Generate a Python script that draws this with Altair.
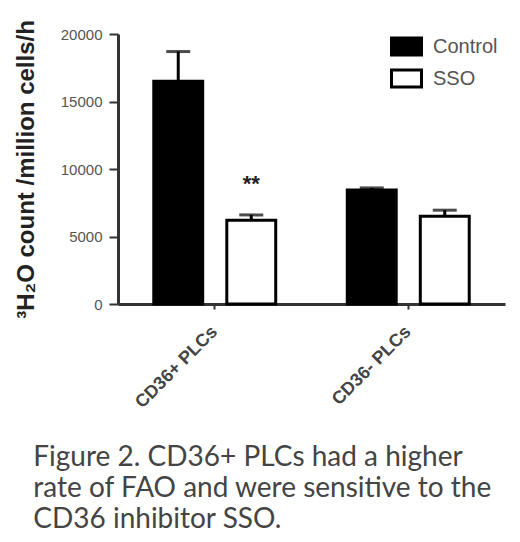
import altair as alt
import pandas as pd

groups = ["CD36+ PLCs", "CD36- PLCs"]
treatments = ["Control", "SSO"]
bar_group = ["CD36+ PLCs", "CD36+ PLCs", "CD36- PLCs", "CD36- PLCs"]
bar_treat = ["Control", "SSO", "Control", "SSO"]
means = [16500, 6200, 8450, 6500]
errors = [2200, 400, 150, 450]
sig = ["", "**", "", ""]
y_ticks = [0, 5000, 10000, 15000, 20000]
caption = [
    "Figure 2. CD36+ PLCs had a higher",
    "rate of FAO and were sensitive to the",
    "CD36 inhibitor SSO.",
]

df = pd.DataFrame({
    "group": bar_group,
    "treatment": bar_treat,
    "mean": means,
    "err": errors,
    "sig": sig,
})
df["upper"] = df["mean"] + df["err"]

x = alt.X("group:N", sort=groups, title=None,
          scale=alt.Scale(paddingInner=0, paddingOuter=0),
          axis=alt.Axis(labelAngle=-45, labelAlign="right", labelBaseline="middle",
                        labelFontSize=18, labelFontWeight="bold", labelColor="#444",
                        labelFont="Liberation Sans", labelPadding=20,
                        tickSize=5, tickWidth=2, tickColor="#333",
                        domainWidth=3, domainColor="#333"))
xo = alt.XOffset("treatment:N", sort=treatments,
                 scale=alt.Scale(paddingInner=0.33, paddingOuter=0.49))
yscale = alt.Scale(domain=[0, 20000], nice=False)

base = alt.Chart(df)

bars = base.mark_bar(stroke="black", strokeWidth=3).encode(
    x=x,
    xOffset=xo,
    y=alt.Y("mean:Q", scale=yscale,
            title="³H₂O count /million cells/h",
            axis=alt.Axis(values=y_ticks, format="d", grid=False, labelFontSize=15,
                          labelColor="#555", labelFont="Liberation Sans",
                          tickSize=9, tickWidth=2, tickColor="#333",
                          labelPadding=7,
                          domainWidth=3, domainColor="#333",
                          titleFontSize=24, titleFontWeight="bold",
                          titleColor="#222", titleFont="Liberation Sans",
                          titlePadding=22)),
    fill=alt.Fill("treatment:N", sort=treatments,
                  scale=alt.Scale(domain=treatments, range=["black", "white"]),
                  legend=alt.Legend(title=None, orient="none", legendX=272, legendY=-4,
                                    symbolType="M-1,-0.57L1,-0.57L1,0.57L-1,0.57Z",
                                    symbolSize=900, symbolStrokeColor="black",
                                    symbolStrokeWidth=3, symbolFillColor="white",
                                    labelFontSize=20, labelColor="#555",
                                    labelFont="Liberation Sans", rowPadding=-1,
                                    labelOffset=10)),
)

rules = base.mark_rule(color="black", strokeWidth=3).encode(
    x=x, xOffset=xo,
    y=alt.Y("mean:Q", scale=yscale), y2="upper:Q",
)

caps = base.mark_tick(color="black", thickness=3, size=24).encode(
    x=x, xOffset=xo,
    y=alt.Y("upper:Q", scale=yscale),
)

stars = base.mark_text(fontSize=22, fontWeight="bold", dy=-31, color="#222",
                       font="Liberation Sans").encode(
    x=x, xOffset=xo,
    y=alt.Y("upper:Q", scale=yscale),
    text="sig:N",
)

chart = alt.layer(bars, rules, caps, stars).properties(
    width=387, height=270,
    padding={"left": 6, "top": 1, "right": 5, "bottom": 0},
    title=alt.TitleParams(text=caption, orient="bottom", anchor="start",
                          frame="bounds", fontSize=28, lineHeight=31,
                          font="Lato", fontWeight="normal", color="#444",
                          offset=33, dx=19),
).configure_view(stroke=None)

chart.save("out.html", embed_options={"renderer": "svg", "actions": False})
